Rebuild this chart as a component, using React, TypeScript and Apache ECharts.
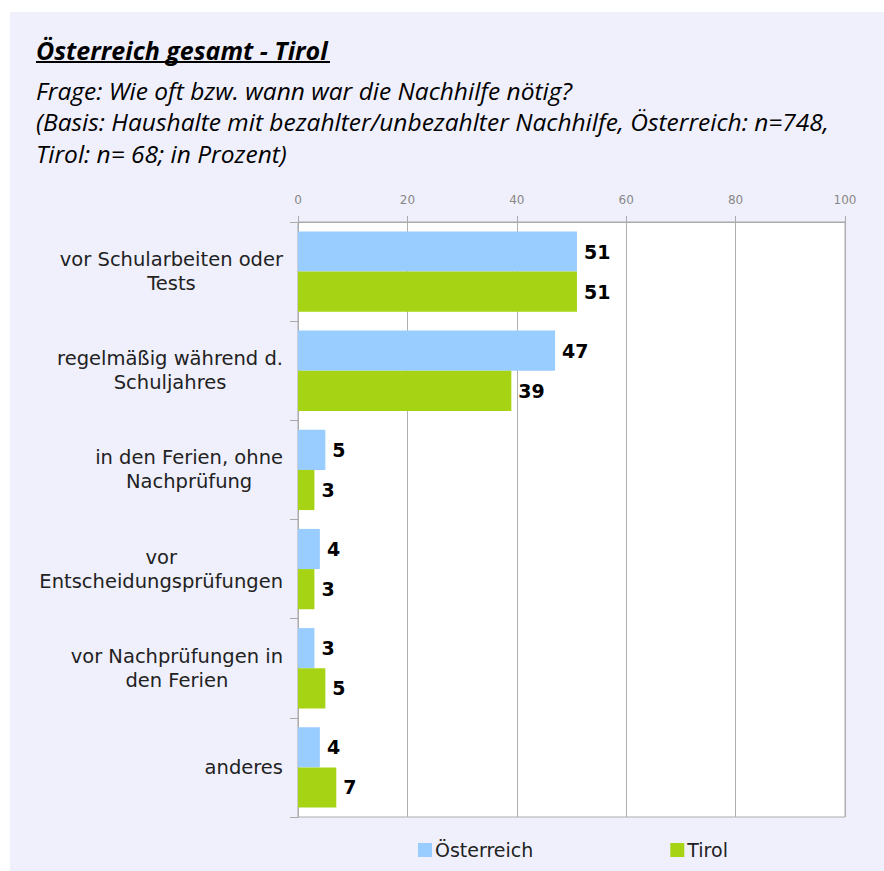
import React, { useEffect, useRef } from "react";
import * as echarts from "echarts";

const categories = [
  "vor Schularbeiten oder\nTests",
  "regelmäßig während d.\nSchuljahres",
  "in den Ferien, ohne\nNachprüfung",
  "vor\nEntscheidungsprüfungen",
  "vor Nachprüfungen in\nden Ferien",
  "anderes",
];
const seriesNames = ["Österreich", "Tirol"];
const oesterreich = [51, 47, 5, 4, 3, 4];
const tirol = [51, 39, 3, 3, 5, 7];
const xTicks = { min: 0, max: 100, interval: 20 };

const titleText = "Österreich gesamt - Tirol";
const subtitleLines = [
  "Frage: Wie oft bzw. wann war die Nachhilfe nötig?",
  "(Basis: Haushalte mit bezahlter/unbezahlter Nachhilfe, Österreich: n=748,",
  "Tirol: n= 68; in Prozent)",
];

export default function App() {
  const ref = useRef<HTMLDivElement>(null);
  useEffect(() => {
    if (!ref.current) return;
    const chart = echarts.init(ref.current, null, { renderer: "svg" });
    const labelStyle = {
      show: true,
      position: "right",
      distance: 7,
      color: "#000",
      fontFamily: "DejaVu Sans",
      fontWeight: "bold",
      fontSize: 19,
    };
    chart.setOption({
      animation: false,
      backgroundColor: "#ffffff",
      graphic: [
        {
          type: "rect",
          shape: { x: 10, y: 12, width: 880, height: 870 },
          style: { fill: "#f0f0fd" },
          z: -10,
        },
        {
          type: "text",
          x: 36,
          y: 50,
          style: {
            text: titleText,
            font: "italic bold 25px 'Open Sans'",
            fill: "#000",
            verticalAlign: "middle",
          },
        },
        {
          type: "rect",
          shape: { x: 36, y: 61, width: 294, height: 2 },
          style: { fill: "#000" },
        },
        ...subtitleLines.map((t, i) => ({
          type: "text",
          x: 36,
          y: 90 + i * 31.5,
          style: {
            text: t,
            font: "italic 24.5px 'Open Sans'",
            fill: "#000",
            verticalAlign: "middle",
          },
        })),
      ],
      grid: {
        left: 298,
        right: 39,
        top: 222,
        bottom: 54,
        show: true,
        backgroundColor: "#ffffff",
        borderColor: "#aaaaaa",
        borderWidth: 1,
      },
      legend: {
        data: seriesNames,
        top: 839,
        left: 418,
        padding: 0,
        itemWidth: 14,
        itemHeight: 14,
        itemGap: 137,
        icon: "rect",
        textStyle: {
          fontFamily: "DejaVu Sans",
          fontSize: 19,
          lineHeight: 22,
          color: "#222",
          padding: [0, 0, 0, -2],
        },
      },
      xAxis: {
        type: "value",
        position: "top",
        min: xTicks.min,
        max: xTicks.max,
        interval: xTicks.interval,
        axisLine: { show: true, lineStyle: { color: "#aaaaaa" } },
        axisTick: { show: true, length: 6, lineStyle: { color: "#aaaaaa" } },
        axisLabel: {
          color: "#888888",
          fontFamily: "DejaVu Sans",
          fontSize: 12,
          margin: 16,
        },
        splitLine: { show: true, lineStyle: { color: "#b0b0b0" } },
      },
      yAxis: {
        type: "category",
        inverse: true,
        data: categories,
        axisLine: { show: true, lineStyle: { color: "#aaaaaa" } },
        axisTick: { show: true, length: 8, lineStyle: { color: "#aaaaaa" } },
        axisLabel: {
          margin: 15,
          formatter: (v: string) =>
            v
              .split("\n")
              .map((l) => `{c|${l}}`)
              .join("\n"),
          rich: {
            c: {
              align: "center",
              fontFamily: "DejaVu Sans",
              fontSize: 19.5,
              color: "#222",
              lineHeight: 24,
            },
          },
        },
      },
      series: [
        {
          name: seriesNames[0],
          type: "bar",
          data: oesterreich,
          itemStyle: { color: "#99ccff" },
          barGap: "0%",
          barCategoryGap: "19%",
          label: labelStyle,
        },
        {
          name: seriesNames[1],
          type: "bar",
          data: tirol,
          itemStyle: { color: "#a6d414" },
          barGap: "0%",
          barCategoryGap: "19%",
          label: labelStyle,
        },
      ],
    });
    return () => chart.dispose();
  }, []);
  return (
    <div
      ref={ref}
      style={{ position: "fixed", left: 0, top: 0, width: 884, height: 871 }}
    />
  );
}
